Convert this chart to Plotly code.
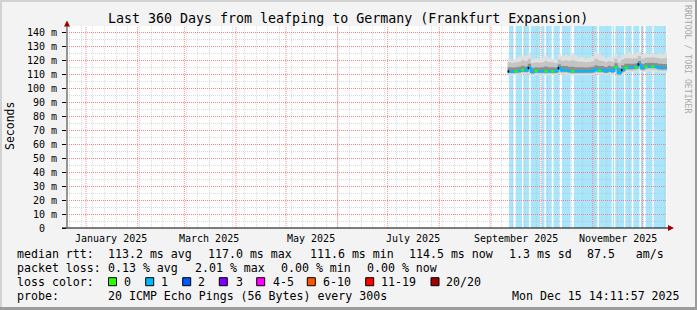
import plotly.graph_objects as go
import pandas as pd

# ---------------- data ----------------
TITLE = "Last 360 Days from leafping to Germany (Frankfurt Expansion)"
X_START = "2024-12-20 14:11:57"
X_END = "2025-12-15 14:11:57"

month_starts = ["2025-01-01", "2025-02-01", "2025-03-01", "2025-04-01", "2025-05-01", "2025-06-01",
                "2025-07-01", "2025-08-01", "2025-09-01", "2025-10-01", "2025-11-01", "2025-12-01"]
month_label_dates = ["2025-01-16", "2025-03-16", "2025-05-16", "2025-07-16", "2025-09-16", "2025-11-16"]
month_labels = ["January 2025", "March 2025", "May 2025", "July 2025", "September 2025", "November 2025"]

y_tick_vals = [0, 10, 20, 30, 40, 50, 60, 70, 80, 90, 100, 110, 120, 130, 140]
y_tick_text = ["0\u00a0\u00a0", "10 m", "20 m", "30 m", "40 m", "50 m", "60 m", "70 m", "80 m",
               "90 m", "100 m", "110 m", "120 m", "130 m", "140 m"]

sample_times = pd.date_range("2025-09-11", periods=48, freq="2D")
median_rtt = [112.0, 111.9, 112.0, 112.3, 113.0, 112.6, 114.5, 111.6, 112.4, 112.0,
              112.0, 112.1, 112.0, 112.1, 112.0, 114.3, 112.8, 112.7, 112.3, 112.0,
              112.0, 112.0, 112.0, 112.0, 112.0, 112.2, 113.5, 112.6, 112.9, 112.1,
              113.0, 112.4, 115.0, 111.0, 113.0, 114.7, 114.7, 114.7, 114.8, 117.0,
              114.3, 115.3, 115.5, 115.5, 115.3, 114.6, 114.5, 114.5]
loss_class = ["k", "b", "g", "b", "g", "b", "k", "b", "g", "b",
              "b", "g", "b", "g", "b", "k", "b", "b", "b", "g",
              "b", "b", "b", "b", "b", "b", "b", "g", "b", "b",
              "b", "b", "g", "b", "k", "g", "b", "b", "g", "k",
              "b", "g", "b", "g", "b", "b", "b", "b"]
smoke_up1 = [121.0, 120.0, 121.5, 122.5, 124.0, 123.0, 125.5, 121.0, 121.5, 121.0,
             122.0, 123.5, 122.0, 121.0, 120.5, 124.5, 123.0, 124.0, 123.0, 125.0,
             123.5, 122.0, 122.5, 121.5, 122.0, 123.0, 126.0, 124.5, 123.0, 121.5,
             122.5, 122.0, 124.5, 121.5, 124.0, 125.0, 125.5, 124.5, 125.0, 126.0,
             124.0, 125.0, 124.5, 125.5, 124.0, 125.0, 124.5, 126.0]
smoke_up2 = [118.5, 118.0, 118.5, 119.0, 120.0, 119.5, 121.0, 118.0, 118.5, 118.2,
             118.5, 119.5, 118.8, 118.5, 118.0, 120.5, 119.5, 120.0, 119.5, 120.0,
             119.5, 119.0, 119.0, 118.5, 118.8, 119.2, 121.0, 120.0, 119.5, 118.8,
             119.5, 119.0, 121.0, 118.5, 120.5, 121.5, 121.5, 121.2, 121.5, 123.0,
             121.0, 122.0, 122.0, 122.2, 121.8, 121.5, 121.2, 121.5]
smoke_up3 = [115.0, 114.8, 115.0, 115.3, 116.0, 115.5, 117.5, 114.5, 115.0, 114.8,
             115.0, 115.5, 115.0, 115.0, 114.8, 117.0, 115.8, 115.8, 115.3, 115.3,
             115.0, 115.0, 115.0, 114.8, 115.0, 115.3, 116.5, 115.8, 115.8, 115.2,
             116.0, 115.5, 117.8, 114.5, 116.5, 117.5, 117.5, 117.5, 117.6, 119.5,
             117.3, 118.0, 118.2, 118.3, 118.0, 117.5, 117.3, 117.3]
smoke_lo3 = [111.0, 110.9, 111.0, 111.3, 112.0, 111.6, 113.0, 110.6, 111.3, 111.0,
             111.0, 111.1, 111.0, 111.1, 111.0, 113.0, 111.8, 111.7, 111.3, 111.0,
             111.0, 111.0, 111.0, 111.0, 111.0, 111.2, 112.3, 111.6, 111.8, 111.1,
             112.0, 111.3, 113.8, 109.8, 111.8, 113.6, 113.6, 113.6, 113.7, 115.5,
             113.3, 114.2, 114.4, 114.4, 114.2, 113.5, 113.4, 113.4]
smoke_lo2 = [110.3, 110.2, 110.4, 110.6, 111.2, 110.8, 111.5, 109.8, 110.5, 110.3,
             110.3, 110.4, 110.3, 110.4, 110.3, 111.3, 110.9, 110.8, 110.5, 110.3,
             110.3, 110.3, 110.3, 110.3, 110.4, 110.5, 111.2, 110.8, 110.9, 110.4,
             111.0, 110.5, 112.5, 108.8, 110.8, 112.6, 112.6, 112.6, 112.7, 114.0,
             112.3, 113.2, 113.4, 113.4, 113.2, 112.5, 112.4, 112.4]
smoke_lo1 = [109.0, 109.2, 109.5, 109.6, 110.0, 109.8, 110.0, 108.8, 109.4, 109.3,
             109.2, 109.3, 109.2, 109.4, 109.3, 110.0, 109.8, 109.7, 109.4, 109.2,
             109.2, 109.3, 109.2, 109.3, 109.4, 109.4, 110.0, 109.7, 109.8, 109.3,
             109.8, 109.3, 111.0, 107.8, 109.6, 111.3, 111.3, 111.4, 111.5, 112.5,
             111.0, 111.8, 112.0, 112.0, 111.8, 111.2, 111.1, 111.0]

loss_stripes = [
    ("2025-09-11 19:00", "2025-09-14 10:00"), ("2025-09-15 19:00", "2025-09-19 14:00"),
    ("2025-09-20 10:00", "2025-09-23 19:00"), ("2025-09-24 19:00", "2025-09-30 10:00"),
    ("2025-10-01 07:00", "2025-10-03 02:00"), ("2025-10-04 00:00", "2025-10-07 10:00"),
    ("2025-10-08 12:00", "2025-10-12 00:00"), ("2025-10-13 14:00", "2025-10-18 19:00"),
    ("2025-10-20 19:00", "2025-11-03 19:00"), ("2025-11-04 19:00", "2025-11-12 10:00"),
    ("2025-11-13 00:00", "2025-11-13 19:00"), ("2025-11-14 14:00", "2025-11-19 19:00"),
    ("2025-11-20 14:00", "2025-11-24 10:00"), ("2025-11-25 10:00", "2025-11-29 00:00"),
    ("2025-11-30 00:00", "2025-12-01 10:00"), ("2025-12-02 19:00", "2025-12-06 14:00"),
    ("2025-12-07 14:00", "2025-12-15 00:00"),
]

legend_loss_labels = ["0", "1", "2", "3", "4-5", "6-10", "11-19", "20/20"]
legend_loss_colors = ["#26ff00", "#00b8ff", "#0059ff", "#7e00ff", "#ff00ff", "#ff5500", "#ff0000", "#a10000"]

# ---------------- geometry ----------------
W, H = 697, 310
L, R, T, B = 67, 30, 26, 82
PW, PH = W - L - R, H - T - B
Y_MAX = 144.5
FONT = "DejaVu Sans Mono"
MAJOR_GRID = "rgba(255,110,110,0.8)"
MINOR_GRID = "rgba(185,185,185,0.5)"
DASH = "1px,1px"


def px(x):
    return (x - L) / PW


def py(y):
    return (T + PH - y) / PH


fig = go.Figure()

times = list(sample_times) + [pd.Timestamp(X_END)]


def ext(a):
    return list(a) + [a[-1]]


layers = [(smoke_lo1, smoke_up1, "#e0e0e0"), (smoke_lo2, smoke_up2, "#c4c4c4"),
          (smoke_lo3, smoke_up3, "#8e8e8e")]
for lo, up, col in layers:
    fig.add_trace(go.Scatter(x=times, y=ext(lo), mode="lines", line=dict(width=0, shape="hv"),
                             showlegend=False, hoverinfo="skip"))
    fig.add_trace(go.Scatter(x=times, y=ext(up), mode="lines", line=dict(width=0, shape="hv"),
                             fill="tonexty", fillcolor=col, showlegend=False, hoverinfo="skip"))

fig.add_trace(go.Scatter(x=times, y=ext(median_rtt), mode="lines",
                         line=dict(color="#00b8ff", width=2.2, shape="hv"),
                         showlegend=False, hoverinfo="skip"))
for cls, col, frac in (("g", "#26ff00", 1.0), ("k", "#000000", 0.45)):
    xs, ys = [], []
    for i, c in enumerate(loss_class):
        if c == cls:
            t0 = times[i]
            t1 = t0 + (times[i + 1] - t0) * frac
            xs += [t0, t1, None]
            ys += [median_rtt[i], median_rtt[i], None]
    fig.add_trace(go.Scatter(x=xs, y=ys, mode="lines", line=dict(color=col, width=2.2),
                             showlegend=False, hoverinfo="skip"))

shapes = []
for s, e in loss_stripes:
    shapes.append(dict(type="rect", xref="x", yref="paper", x0=s, x1=e, y0=0, y1=1,
                       fillcolor="#aae6fb", line=dict(width=0), layer="below"))
for m in month_starts:
    shapes.append(dict(type="line", xref="x", yref="paper", x0=m, x1=m, y0=0, y1=1,
                       line=dict(color=MAJOR_GRID, width=1, dash=DASH), layer="below"))

# frame borders
shapes.append(dict(type="rect", xref="paper", yref="paper", x0=px(0), x1=px(W), y0=py(0), y1=py(2),
                   fillcolor="#d2d2d2", line=dict(width=0)))
shapes.append(dict(type="rect", xref="paper", yref="paper", x0=px(0), x1=px(2), y0=py(0), y1=py(H),
                   fillcolor="#d2d2d2", line=dict(width=0)))
shapes.append(dict(type="rect", xref="paper", yref="paper", x0=px(0), x1=px(W), y0=py(H - 3), y1=py(H),
                   fillcolor="#9c9c9c", line=dict(width=0)))
shapes.append(dict(type="rect", xref="paper", yref="paper", x0=px(W - 2), x1=px(W), y0=py(0), y1=py(H),
                   fillcolor="#9c9c9c", line=dict(width=0)))

# axes lines and arrows
shapes.append(dict(type="line", xref="paper", yref="paper", x0=px(62), x1=px(669), y0=py(228), y1=py(228),
                   line=dict(color="#000000", width=1.2)))
shapes.append(dict(type="line", xref="paper", yref="paper", x0=px(67), x1=px(67), y0=py(228), y1=py(25),
                   line=dict(color="#555555", width=1.2)))
shapes.append(dict(type="path", xref="paper", yref="paper",
                   path=f"M {px(64)} {py(26.5)} L {px(70)} {py(26.5)} L {px(67)} {py(20.5)} Z",
                   fillcolor="#9a0000", line=dict(width=0)))
shapes.append(dict(type="path", xref="paper", yref="paper",
                   path=f"M {px(668)} {py(225)} L {px(668)} {py(231)} L {px(674)} {py(228)} Z",
                   fillcolor="#9a0000", line=dict(width=0)))

annotations = []
annotations.append(dict(text=TITLE, xref="paper", yref="paper", x=px(348), y=py(19), showarrow=False,
                        font=dict(family=FONT, size=13.3, color="#000"), xanchor="center", yanchor="middle"))
annotations.append(dict(text="Seconds", xref="paper", yref="paper", x=px(10), y=py(126), showarrow=False,
                        textangle=-90, font=dict(family=FONT, size=11.5, color="#000"),
                        xanchor="center", yanchor="middle"))
annotations.append(dict(text="RRDTOOL / TOBI OETIKER", xref="paper", yref="paper", x=px(688), y=py(59),
                        showarrow=False, textangle=90, font=dict(family=FONT, size=8.2, color="#aaaaaa"),
                        xanchor="center", yanchor="middle"))
for d, lab in zip(month_label_dates, month_labels):
    annotations.append(dict(text=lab, xref="x", yref="paper", x=d, y=py(238), showarrow=False,
                            font=dict(family=FONT, size=10, color="#000"), xanchor="center", yanchor="middle"))

legend_items = [
    (16, 254, "median rtt:"), (107, 254, "113.2 ms avg"), (207, 254, "117.0 ms max"),
    (309, 254, "111.6 ms min"), (408, 254, "114.5 ms now"), (508, 254, "1.3 ms sd"),
    (586, 254, "87.5   am/s"),
    (16, 268, "packet loss:"), (107, 268, "0.13 % avg"), (193.5, 268, "2.01 % max"),
    (279.5, 268, "0.00 % min"), (365.5, 268, "0.00 % now"),
    (16, 282, "loss color:"),
    (16, 296, "probe:"), (107, 296, "20 ICMP Echo Pings (56 Bytes) every 300s"),
]
for x, y, t in legend_items:
    annotations.append(dict(text=t.replace(" ", "\u00a0"), xref="paper", yref="paper", x=px(x), y=py(y),
                            showarrow=False, font=dict(family=FONT, size=11.6, color="#000"), xanchor="left",
                            yanchor="middle", borderpad=0))
annotations.append(dict(text="Mon Dec 15 14:11:57 2025", xref="paper", yref="paper", x=px(681), y=py(296),
                        showarrow=False, font=dict(family=FONT, size=11.6, color="#000"),
                        xanchor="right", yanchor="middle", borderpad=0))

box_x = [108.5, 145.7, 182.7, 219.3, 256.7, 307.3, 365.7, 431]
text_x = [123, 160, 197, 234.5, 271.5, 321.5, 380, 445]
for bx, tx, lab, col in zip(box_x, text_x, legend_loss_labels, legend_loss_colors):
    shapes.append(dict(type="rect", xref="paper", yref="paper", x0=px(bx), x1=px(bx + 8),
                       y0=py(285.7), y1=py(277.7), fillcolor=col, line=dict(color="#000", width=1)))
    annotations.append(dict(text=lab, xref="paper", yref="paper", x=px(tx), y=py(282), showarrow=False,
                            font=dict(family=FONT, size=11.6, color="#000"), xanchor="left",
                            yanchor="middle", borderpad=0))

fig.update_layout(
    width=W, height=H, margin=dict(l=L, r=R, t=T, b=B),
    paper_bgcolor="#f3f3f3", plot_bgcolor="#ffffff",
    shapes=shapes, annotations=annotations, showlegend=False,
    xaxis=dict(type="date", range=[X_START, X_END], tickmode="linear", tick0="2024-12-22",
               dtick=7 * 86400000, showticklabels=False, ticks="",
               showgrid=True, gridcolor=MINOR_GRID, griddash=DASH, gridwidth=1,
               zeroline=False, showline=False, fixedrange=True),
    yaxis=dict(range=[0, Y_MAX], tickvals=y_tick_vals, ticktext=y_tick_text, ticks="outside", ticklen=4,
               tickcolor="#000", tickwidth=1, showgrid=True, gridcolor=MAJOR_GRID,
               griddash=DASH, zeroline=False, showline=False, ticklabelstandoff=3,
               tickfont=dict(family=FONT, size=10, color="#000"), fixedrange=True,
               minor=dict(dtick=5, showgrid=True, gridcolor=MINOR_GRID, griddash=DASH, ticks="")),
)

fig.write_html("out.html")
